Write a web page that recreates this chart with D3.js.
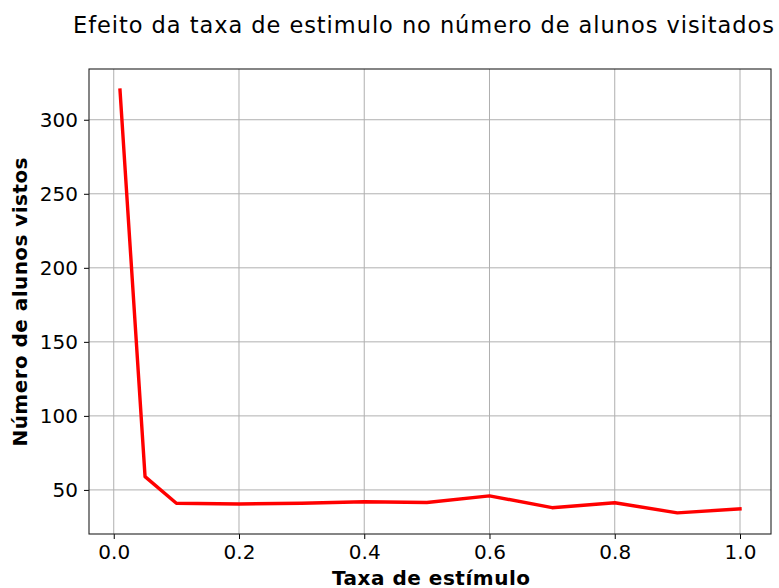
<!DOCTYPE html>
<html>
<head>
<meta charset="utf-8">
<script src="https://cdn.jsdelivr.net/npm/d3@7"></script>
<style>
  html, body { margin: 0; padding: 0; background: #fff; }
  svg text { font-family: "DejaVu Sans", sans-serif; fill: #000; }
</style>
</head>
<body>
<svg id="chart" width="779" height="588"></svg>
<script>
// Stimulus rate vs. number of students visited
const taxas = [0.01, 0.05, 0.1, 0.2, 0.3, 0.4, 0.5, 0.6, 0.7, 0.8, 0.9, 1.0];
const alunosVistos = [320, 59, 41, 40.5, 41, 42, 41.5, 46, 38, 41.3, 34.5, 37.2];
const xTicks = [0.0, 0.2, 0.4, 0.6, 0.8, 1.0];
const yTicks = [50, 100, 150, 200, 250, 300];

const titulo = "Efeito da taxa de estimulo no número de alunos visitados";
const rotuloX = "Taxa de estímulo";
const rotuloY = "Número de alunos vistos";

const svg = d3.select("#chart");
const plotL = 89, plotR = 771, plotT = 69, plotB = 534;

// 5% padding around the data range on both axes
const xMin = d3.min(taxas), xMax = d3.max(taxas);
const xPad = (xMax - xMin) * 0.05;
const yMin = d3.min(alunosVistos), yMax = d3.max(alunosVistos);
const yPad = (yMax - yMin) * 0.05;

const x = d3.scaleLinear().domain([xMin - xPad, xMax + xPad]).range([plotL, plotR]);
const y = d3.scaleLinear().domain([yMin - yPad, yMax + yPad]).range([plotB, plotT]);

// grid
const grid = svg.append("g");
grid.selectAll("line.vx").data(xTicks).join("line")
  .attr("class", "vx")
  .attr("x1", d => x(d)).attr("x2", d => x(d))
  .attr("y1", plotT).attr("y2", plotB)
  .attr("stroke", "#b0b0b0").attr("stroke-width", 1);
grid.selectAll("line.hy").data(yTicks).join("line")
  .attr("class", "hy")
  .attr("x1", plotL).attr("x2", plotR)
  .attr("y1", d => y(d)).attr("y2", d => y(d))
  .attr("stroke", "#b0b0b0").attr("stroke-width", 1);

// axes
const xAxis = d3.axisBottom(x).tickValues(xTicks).tickFormat(d3.format(".1f"))
  .tickSizeInner(5).tickSizeOuter(0).tickPadding(6);
const yAxis = d3.axisLeft(y).tickValues(yTicks).tickFormat(d3.format("d"))
  .tickSizeInner(5).tickSizeOuter(0).tickPadding(6);

const gx = svg.append("g").attr("transform", `translate(0,${plotB})`).call(xAxis);
const gy = svg.append("g").attr("transform", `translate(${plotL},0)`).call(yAxis);
[gx, gy].forEach(g => {
  g.select(".domain").remove();
  g.selectAll(".tick line").attr("stroke", "#000").attr("stroke-width", 1);
  g.selectAll(".tick text").style("font-size", "20px").style("font-family", "DejaVu Sans")
    .attr("fill", "#000");
});

// line
const linha = d3.line().x((d, i) => x(taxas[i])).y(d => y(d));
svg.append("path").datum(alunosVistos)
  .attr("d", linha)
  .attr("fill", "none")
  .attr("stroke", "#ff0000")
  .attr("stroke-width", 3.4)
  .attr("stroke-linejoin", "round")
  .attr("stroke-linecap", "square");

// frame
svg.append("rect")
  .attr("x", plotL).attr("y", plotT)
  .attr("width", plotR - plotL).attr("height", plotB - plotT)
  .attr("fill", "none").attr("stroke", "#222").attr("stroke-width", 1.1);

// labels
svg.append("text")
  .attr("x", 73).attr("y", 32.5)
  .attr("text-anchor", "start")
  .attr("textLength", 701).attr("lengthAdjust", "spacing")
  .style("font-size", "22.5px")
  .text(titulo);

svg.append("text")
  .attr("x", 431).attr("y", 585)
  .attr("text-anchor", "middle")
  .attr("textLength", 198).attr("lengthAdjust", "spacing")
  .style("font-size", "20px").style("font-weight", "bold")
  .text(rotuloX);

svg.append("text")
  .attr("transform", `translate(27,302) rotate(-90)`)
  .attr("text-anchor", "middle")
  .attr("textLength", 289).attr("lengthAdjust", "spacing")
  .style("font-size", "20px").style("font-weight", "bold")
  .text(rotuloY);
</script>
</body>
</html>
